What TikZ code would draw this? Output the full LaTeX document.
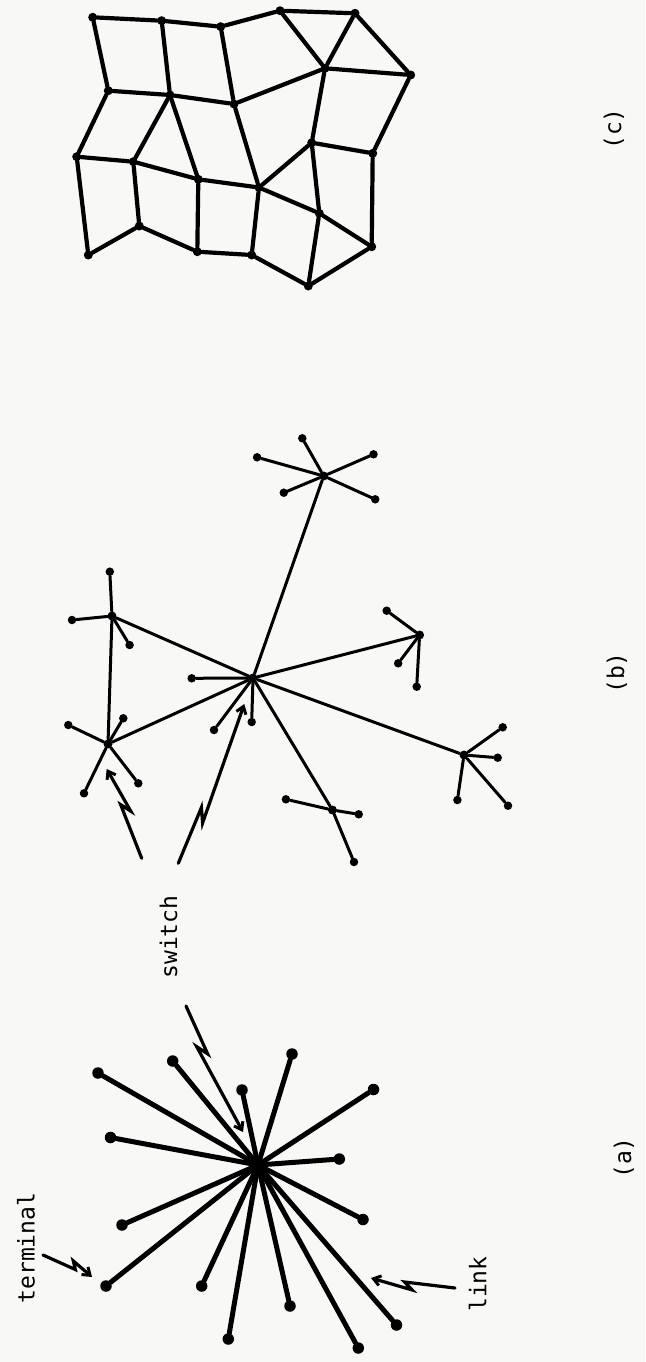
\documentclass[tikz,border=0pt]{standalone}
\usepackage{fontspec}
\newfontfamily\monofont{DejaVu Sans Mono}
\usetikzlibrary{calc,arrows.meta}
\definecolor{paper}{RGB}{248,248,246}
\newcommand\zzarrow[5]{% tail, tip, fraction 1, fraction 2, jog side angle
  \draw[zz] (#1) -- ($(#1)!#3!(#2)$) -- ($(#1)!#4!(#2)!7pt!#5:(#2)$) -- (#2);}
\begin{document}
\begin{tikzpicture}[x=1pt,y=-1pt,
  la/.style={line width=5pt,line cap=round},
  da/.style={circle,fill=black,inner sep=0pt,minimum size=11.5pt},
  hubA/.style={circle,fill=black,inner sep=0pt,minimum size=15pt},
  lb/.style={line width=3pt,line cap=round},
  db/.style={circle,fill=black,inner sep=0pt,minimum size=8.5pt},
  hubB/.style={circle,fill=black,inner sep=0pt,minimum size=9pt},
  lc/.style={line width=4.2pt,line cap=round,line join=round},
  dc/.style={circle,fill=black,inner sep=0pt,minimum size=9pt},
  zz/.style={line width=3.2pt,line join=miter,line cap=round,-{Straight Barb[length=7pt,width=10pt,line width=3pt]}},
  lbl/.style={font=\monofont\fontsize{23}{27}\selectfont,rotate=90,inner sep=0pt}]
\fill[paper] (0,0) rectangle (645,1362);
\useasboundingbox (0,0) rectangle (645,1362);

% ---------------- (c) mesh ----------------
\foreach \n/\x/\y in {A1/92.7/17.3, A2/161.7/20.7, A3/220.7/26.7, A4/280/10.7, A5/355/13.3,
  B1/108.3/90.7, B2/170/95, B3/234/104, B4/325/68.3, B5/410.7/75,
  C1/76.7/156.7, C2/133.3/161.7, C3/198.3/179.3, C4/259/187.5, C5/311.7/142.7, C6/372.7/153.3,
  D1/139.3/226, D2/319.3/213.3, D3/371.7/246.7,
  E1/88.3/255, E2/197.3/251.7, E3/251.7/255, E4/308.3/286}
  {\node[dc] (\n) at (\x,\y) {};}
\foreach \u/\v in {A1/A2, A2/A3, A3/A4, A4/A5,
  A1/B1, A2/B2, A3/B3, A4/B4, A5/B4, A5/B5,
  B1/B2, B2/B3, B3/B4, B4/B5,
  B1/C1, B2/C2, B2/C3, B3/C4, B4/C5, B5/C6,
  C1/C2, C2/C3, C3/C4, C4/C5, C5/C6,
  C1/E1, C2/D1, C3/E2, C4/E3, C4/D2, C5/D2, C6/D3, D2/D3, D2/E4,
  E1/D1, D1/E2, E2/E3, E3/E4, D3/E4}
  {\draw[lc] (\u) -- (\v);}
\node[lbl] (labc) at (614,129) {(c)};

% ---------------- (b) hierarchical ----------------
\node[hubB] (H) at (253,678) {};
\node[hubB] (S1) at (323.7,476) {};
\node[hubB] (S2) at (112,616) {};
\node[hubB] (S3) at (108,744) {};
\node[hubB] (S4) at (419.6,635) {};
\node[hubB] (S5) at (464,755) {};
\node[hubB] (S6) at (332.4,810) {};
\foreach \s in {S1,S2,S3,S4,S5,S6} {\draw[lb] (H) -- (\s);}
\draw[lb] (S2) -- (S3);
\foreach \s/\n/\x/\y in {H/1/191.7/678.3, H/2/251.7/722, H/3/214/730,
  S1/1/302.3/438.3, S1/2/373.5/454.3, S1/3/257.1/457.3, S1/4/283.8/492.7, S1/5/375.2/499.3,
  S2/1/109.8/571.7, S2/2/72/620, S2/3/129.6/645,
  S3/1/68.3/725, S3/2/123.3/718.3, S3/3/84/793.3, S3/4/138.3/783.3,
  S4/1/386.7/610.7, S4/2/398.2/663.3, S4/3/416.7/686.7,
  S5/1/502.7/727.3, S5/2/497.7/757.7, S5/3/457.4/800, S5/4/508/805.7,
  S6/1/285.9/799.3, S6/2/358.7/814.3, S6/3/354/862}
  {\node[db] (\s t\n) at (\x,\y) {}; \draw[lb] (\s) -- (\s t\n);}
\coordinate (swb1t) at (141.7,858.3); \coordinate (swb1h) at (106.7,769);
\coordinate (swb2t) at (178.3,863.3); \coordinate (swb2h) at (244.3,704);
\zzarrow{swb1t}{swb1h}{0.60}{0.50}{-90}
\zzarrow{swb2t}{swb2h}{0.35}{0.27}{-90}
\node[lbl] (labb) at (617,673) {(b)};

% ---------------- (a) star ----------------
\node[hubA] (ha) at (258,1165) {};
\foreach \n/\x/\y in {1/98/1073, 2/172.7/1061, 3/292/1054, 4/242/1090, 5/373.5/1089.5,
  6/110.5/1137.5, 7/339.3/1159, 8/122/1225, 9/363/1219.5, 10/106/1286,
  11/201.7/1286, 12/290/1306, 13/396.5/1325, 14/228.3/1339, 15/358.3/1348}
  {\node[da] (a\n) at (\x,\y) {}; \draw[la] (ha) -- (a\n);}
\coordinate (swat) at (186,1006); \coordinate (swah) at (243,1132);
\zzarrow{swat}{swah}{0.38}{0.30}{-90}
\coordinate (termt) at (43,1255); \coordinate (termh) at (92,1277);
\zzarrow{termt}{termh}{0.66}{0.56}{90}
\coordinate (linkt) at (455,1288); \coordinate (linkh) at (371,1278);
\zzarrow{linkt}{linkh}{0.60}{0.50}{90}
\node[lbl] (labterm) at (26,1248) {terminal};
\node[lbl] (labsw) at (168.5,937) {switch};
\node[lbl] (lablink) at (477.5,1284) {link};
\node[lbl] (laba) at (624,1158) {(a)};
\end{tikzpicture}
\end{document}
